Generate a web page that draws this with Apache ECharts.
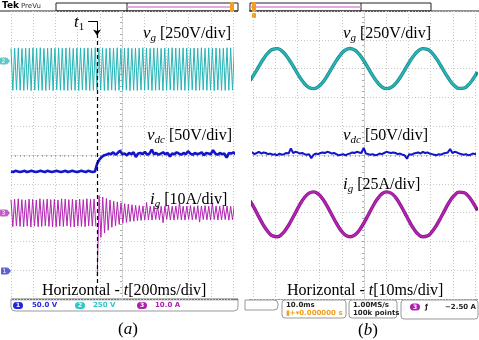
<!DOCTYPE html>
<html><head><meta charset="utf-8">
<script src="https://cdn.jsdelivr.net/npm/echarts@6/dist/echarts.min.js"></script>
<style>html,body{margin:0;padding:0;background:#fff}#c{width:479px;height:340px}</style>
</head><body><div id="c"></div>
<script>
// ================= DATA (read from the oscilloscope captures) =================
// (a) 200 ms/div, screen span 0..2045 ms, event t1
const t1 = 775; // ms
const vgA = [180,-184,183,-181,185,-183,179,-185,184,-180,182,-186,185,-182,181,-184,186,-183,180,-185,183,-181,184,-186,182,-180,185,-184,181,-183,184,-185,186,-182,180,-184,183,-186,185,-181,182,-183,184,-185,181,-184,186,-180,183,-182,185,-186,180,-184,184,-181,182,-185,186,-183,181,-184,183,-182,185,-186,180,-183,184,-185,182,-181,186,-184,183,-180,181,-185,184,-183,185,-182,180,-186,183,-184,182,-181,186,-185,184,-183,181,-182,185,-184,183,-186,180,-181,184,-185,182,-183,186,-180,181,-184,185,-182,183,-186,184,-181,180,-185,182,-184,186,-183,185,-182,181,-184,183];
const vdcA = [173,172,174,173,172,173,174,172,173,174,173,172,173,174,173,172,174,173,172,173,174,173,172,173,174,172,173,174,173,172,173,174,173,172,174,173,172,173,
  187,194,198,201,202,204,203,206,202,205,209,203,204,201,205,203,206,198,204,205,203,207,202,204,211,203,205,202,204,206,203,205,199,204,203,206,204,202,205,203,208,204,202,205,203,204,206,201,205,204,203,210,204,202,205,203,204,197,205,204,206,203,204];
const igApre = [4.6,-4.8,4.7,-4.5,4.9,-4.7,4.6,-4.8,4.5,-4.6,4.8,-4.9,4.7,-4.6,4.5,-4.8,4.9,-4.7,4.6,-4.5,4.8,-4.7,4.6,-4.9,4.7,-4.8,4.5,-4.6,4.9,-4.7,4.8,-4.5,4.6,-4.8,4.7,-4.9,4.5,-4.6,4.8,-4.7,4.6,-4.8,4.9,-4.5,4.7,-4.6,4.8,-4.7];
const igApost = [-22,6,-8.5,5.5,-7,5,-6,4.5,-5,4,-4.5,3.8,-4,3.5,-3.6,3.2,-3.3,3,-3,2.8,-2.9,2.6,-2.7,2.5,-2.6,2.4,-2.5,3.6,-2.4,2.3,-2.5,2.4,-2.3,2.5,-2.4,2.3,-3.4,2.4,-2.3,2.5,-2.4,2.3,-2.5,2.4,-2.3,3.8,-2.4,2.3,-2.5,2.4,-2.3,2.5,-2.4,2.2,-2.3,2.5,-3.2,2.4,-2.3,2.5,-2.4,2.3,-2.5,3.4,-2.3,2.4,-2.5,2.3,-2.4,2.5,-2.3,2.4,-2.5,2.3,-2.4,2.5,-2.3,2.4];
// (b) 10 ms/div, screen span -1.4..101.1 ms
const vgB = [-106,-46,21,85,136,167,173,154,112,54,-12,-77,-130,-164,-174,-158,-119,-62,4,69,124,161,174,161,125,70,5,-61,-118,-158,-174,-164,-131,-77,-13,53,112,154,173,167,136,85,22,-45,-105,-150,-172,-169,-141,-92,-30];
const vdcB = [204,206,203,205,207,204,206,205,203,204,202,203,201,204,202,203,205,204,213,205,207,206,204,205,203,202,203,196,202,204,203,205,206,205,207,206,204,205,203,201,202,203,201,203,204,206,205,207,206,205,214,204,203,202,203,201,202,204,203,205,207,206,205,206,205,203,204,202,201,195,203,202,204,205,206,204,207,205,206,204,203,202,201,203,202,204,205,206,212,205,207,206,204,203,202,203,201,202,204,203,205];
const igB = [11.9,5.2,-2.4,-9.5,-15.2,-18.7,-19.4,-17.3,-12.6,-6.0,1.3,8.6,14.6,18.4,19.5,17.7,13.3,6.9,-0.4,-7.7,-13.9,-18.0,-19.5,-18.0,-14.0,-7.8,-0.6,6.8,13.2,17.7,19.5,18.4,14.7,8.6,1.5,-5.9,-12.6,-17.3,-19.4,-18.7,-15.2,-9.5,-2.5,5.0,11.8,16.8,19.3,18.9,15.8,10.3,3.4];

// scope settings
const msPerDivA = 200, msPerDivB = 10;
const voltsDiv = {vg:250, vdc:50, igA:10, igB:25};
const spanA = [0, 2045], igApreSpan = [0, 765], igApostSpan = [777, 2045], spanB = [-1.4, 101.1];
const offA = {vg:2.98, vdc:-4.03, ig:-2.01}, offB = {vg:3.0, vdc:-4.03, ig:-2.06};

// ================= helpers =================
function pts(vals, span, msDiv, vdiv, off) {
  const n = vals.length, dt = (span[1]-span[0])/(n-1);
  return vals.map((v,i)=>[(span[0]+i*dt)/msDiv - 5, off + v/vdiv]);
}
const TEAL='#26b4b6', TEAL_D='#1d8688', BLUE='#1414c8', MAG='#b223b2', MAG_D='#861486';
const gridStyle = {color:'#c8c8c8', type:[1,2], width:1};
function ax(g){return {gridIndex:g,type:'value',min:-5,max:5,interval:1,
  axisLabel:{show:false},axisLine:{show:true,onZero:true,lineStyle:gridStyle},
  axisTick:{show:true,length:2,lineStyle:{color:'#aaa'}},
  minorTick:{show:true,splitNumber:5,length:2,lineStyle:{color:'#aaa'}},
  splitLine:{show:true,lineStyle:gridStyle}};}
function line(g,data,color,w,z,smooth){return {type:'line',xAxisIndex:g,yAxisIndex:g,data:data,
  showSymbol:false,symbol:'none',clip:false,smooth:smooth||false,silent:true,animation:false,z:z||2,
  lineStyle:{color:color,width:w}};}

const xt1 = t1/msPerDivA - 5;
const serif = 'Liberation Serif';
function lab(x,y,v,sub,rest){
  return {type:'text',x:x,y:y,style:{text:'{v|'+v+'}{s|'+sub+'}{n| '+rest+'}',verticalAlign:'middle',
    rich:{v:{fontFamily:serif,fontStyle:'italic',fontSize:17,fill:'#000'},
          s:{fontFamily:serif,fontStyle:'italic',fontSize:11,fill:'#000',padding:[8,0,0,0]},
          n:{fontFamily:serif,fontSize:16,fill:'#000'}}},z:50};
}
function horiz(x,y,rest){
  return {type:'text',x:x,y:y,style:{text:'{n|Horizontal - }{v|t}{n|'+rest+'}',verticalAlign:'middle',
    rich:{v:{fontFamily:serif,fontStyle:'italic',fontSize:16,fill:'#000'},n:{fontFamily:serif,fontSize:16,fill:'#000'}}},z:50};
}
function cap(x,y,l){
  return {type:'text',x:x,y:y,style:{text:'{n|(}{v|'+l+'}{n|)}',verticalAlign:'middle',
    rich:{v:{fontFamily:serif,fontStyle:'italic',fontSize:17,fill:'#000'},n:{fontFamily:serif,fontSize:17,fill:'#000'}}},z:50};
}
function badge(x,y,color,num){
  return {type:'group',x:x,y:y,z:50,children:[
    {type:'rect',shape:{x:0,y:-3.5,width:7,height:7,r:1},style:{fill:color,opacity:0.75}},
    {type:'polygon',shape:{points:[[7,-3.5],[10,0],[7,3.5]]},style:{fill:color,opacity:0.75}},
    {type:'text',x:3.5,y:0,style:{text:num,fontSize:6,fill:'#fff',align:'center',verticalAlign:'middle',fontFamily:'DejaVu Sans'}}]};
}
function pill(x,y,color,num){
  return {type:'group',x:x,y:y,z:50,children:[
    {type:'rect',shape:{x:0,y:-3.5,width:10,height:7,r:3.5},style:{fill:color}},
    {type:'text',x:5,y:0,style:{text:num,fontSize:6,fill:'#fff',align:'center',verticalAlign:'middle',fontFamily:'DejaVu Sans',fontWeight:'bold'}}]};
}
function st(x,y,t,color,size){return {type:'text',x:x,y:y,z:50,style:{text:t,fill:color,fontSize:size||8,fontFamily:'DejaVu Sans',fontWeight:'bold',verticalAlign:'middle'}};}

const graphics = [
  {type:'text',x:2,y:6,style:{text:'Tek',fontSize:9,fontWeight:'bold',fontFamily:'DejaVu Sans',fill:'#000',verticalAlign:'middle'}},
  {type:'text',x:21,y:6,style:{text:'PreVu',fontSize:7,fontFamily:'DejaVu Sans',fill:'#333',verticalAlign:'middle'}},
  {type:'line',shape:{x1:0,y1:11,x2:238,y2:11},style:{stroke:'#222',lineWidth:1}},
  {type:'rect',shape:{x:56,y:3,width:182,height:8},style:{fill:'none',stroke:'#222',lineWidth:1}},
  {type:'line',shape:{x1:127,y1:3,x2:127,y2:11},style:{stroke:'#222',lineWidth:1}},
  {type:'line',shape:{x1:127,y1:7,x2:232,y2:7},style:{stroke:'#d890d8',lineWidth:1.5}},
  {type:'rect',shape:{x:230,y:2,width:4,height:10,r:1},style:{fill:'#f0a020'}},
  {type:'line',shape:{x1:249,y1:11,x2:479,y2:11},style:{stroke:'#222',lineWidth:1}},
  {type:'rect',shape:{x:250,y:3,width:181,height:8},style:{fill:'none',stroke:'#222',lineWidth:1}},
  {type:'line',shape:{x1:361,y1:3,x2:361,y2:11},style:{stroke:'#222',lineWidth:1}},
  {type:'line',shape:{x1:250,y1:7,x2:361,y2:7},style:{stroke:'#d890d8',lineWidth:1.5}},
  {type:'rect',shape:{x:252,y:2,width:4,height:10,r:1},style:{fill:'#f0a020'}},
  {type:'rect',shape:{x:252,y:13,width:4,height:5,r:1},style:{fill:'#f0a020'}},
  badge(0,61,TEAL,'2'), badge(0,213,MAG,'3'), badge(1,271,'#2828c8','1'),
  {type:'text',x:74,y:23,z:50,style:{text:'{v|t}{s|1}',verticalAlign:'middle',
    rich:{v:{fontFamily:serif,fontStyle:'italic',fontSize:17,fill:'#000'},s:{fontFamily:serif,fontSize:11,fill:'#000',padding:[8,0,0,0]}}}},
  lab(143,34,'v','g','[250V/div]'), lab(147,136,'v','dc','[50V/div]'), lab(150,200,'i','g','[10A/div]'),
  lab(343,34,'v','g','[250V/div]'), lab(343,136,'v','dc','[50V/div]'), lab(343,185,'i','g','[25A/div]'),
  horiz(42,291,'[200ms/div]'), horiz(287,291,'[10ms/div]'),
  cap(118,330,'a'), cap(358,331,'b'),
  {type:'rect',shape:{x:11,y:299,width:227,height:12,r:[0,0,4,4]},style:{fill:'none',stroke:'#999',lineWidth:1}},
  {type:'line',shape:{x1:11,y1:299.5,x2:238,y2:299.5},style:{stroke:'#777',lineWidth:1.5}},
  pill(13,305.5,'#2424d8','1'), st(32,305.5,'50.0 V','#2a2ad8',7),
  pill(75,305.5,'#2cc8c8','2'), st(93,305.5,'250 V','#2cc8c8',7),
  pill(137,305.5,'#b020b0','3'), st(155,305.5,'10.0 A','#b020b0',7),
  {type:'line',shape:{x1:249,y1:299.5,x2:478,y2:299.5},style:{stroke:'#999',lineWidth:1}},
  {type:'rect',shape:{x:245,y:300,width:33,height:10,r:[0,4,4,0]},style:{fill:'none',stroke:'#999',lineWidth:1}},
  {type:'rect',shape:{x:282,y:300,width:64,height:18,r:3},style:{fill:'none',stroke:'#999',lineWidth:1}},
  st(286,305,'10.0ms','#222',7), st(286,313,'\u25AE+\u25BE0.000000 s','#f0a020',7),
  {type:'rect',shape:{x:349,y:300,width:48,height:18,r:3},style:{fill:'none',stroke:'#999',lineWidth:1}},
  st(353,305,'1.00MS/s','#222',7), st(353,313,'100k points','#222',7),
  {type:'rect',shape:{x:401,y:300,width:77,height:19,r:3},style:{fill:'none',stroke:'#999',lineWidth:1}},
  pill(410,307,'#b020b0','3'), st(425,307,'\u0192','#222',7), st(445,307,'\u22122.50 A','#222',7)
];

const option = {
  animation:false,
  backgroundColor:'#fff',
  grid:[{left:11,top:11,width:222,height:288},{left:253,top:11,width:222,height:288}],
  xAxis:[ax(0),ax(1)], yAxis:[ax(0),ax(1)],
  series:[
    line(0,pts(vgA,spanA,msPerDivA,voltsDiv.vg,offA.vg),TEAL,1,3),
    line(0,pts(igApre,igApreSpan,msPerDivA,voltsDiv.igA,offA.ig),MAG,1,3),
    line(0,pts(igApost,igApostSpan,msPerDivA,voltsDiv.igA,offA.ig),MAG,1,3),
    line(0,pts(vdcA,spanA,msPerDivA,voltsDiv.vdc,offA.vdc),BLUE,2.6,4),
    {type:'line',xAxisIndex:0,yAxisIndex:0,data:[],z:20,silent:true,
      markLine:{silent:true,symbol:'none',label:{show:false},animation:false,
        lineStyle:{color:'#000',type:[4,3],width:1.2},
        data:[[{coord:[xt1,4.2]},{coord:[xt1,-4.45]}]]}},
    {type:'line',xAxisIndex:0,yAxisIndex:0,data:[],z:20,silent:true,
      markLine:{silent:true,label:{show:false},animation:false,symbolSize:6,
        lineStyle:{color:'#000',type:'solid',width:1},
        data:[[{coord:[xt1-0.4,4.65],symbol:'none'},{coord:[xt1,4.65],symbol:'none'}],
              [{coord:[xt1,4.65],symbol:'none'},{coord:[xt1,4.15],symbol:'arrow'}]]}},
    line(1,pts(vgB,spanB,msPerDivB,voltsDiv.vg,offB.vg),TEAL_D,3.4,3,0.5),
    line(1,pts(vgB,spanB,msPerDivB,voltsDiv.vg,offB.vg),TEAL,2,4,0.5),
    line(1,pts(vdcB,spanB,msPerDivB,voltsDiv.vdc,offB.vdc),BLUE,2,4),
    line(1,pts(igB,spanB,msPerDivB,voltsDiv.igB,offB.ig),MAG_D,3.4,3,0.5),
    line(1,pts(igB,spanB,msPerDivB,voltsDiv.igB,offB.ig),MAG,2,4,0.5)
  ],
  graphic:graphics
};
const chart = echarts.init(document.getElementById('c'),null,{renderer:'canvas'});
chart.setOption(option);
</script></body></html>
